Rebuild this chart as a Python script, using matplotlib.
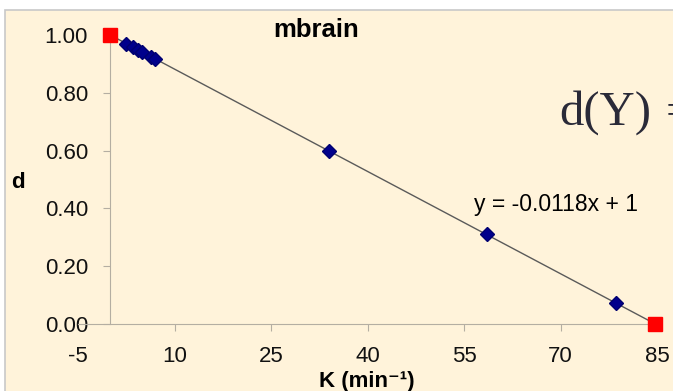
import matplotlib
matplotlib.use("Agg")
import matplotlib.pyplot as plt
from matplotlib.patches import Rectangle

# values
k_points = [2.5, 3.6, 4.4, 5.0, 6.4, 7.0, 34.0, 58.6, 78.6]
d_points = [0.970, 0.958, 0.948, 0.941, 0.924, 0.917, 0.600, 0.310, 0.073]
k_ends = [0.0, 84.75]
d_ends = [1.0, 0.0]
slope, intercept = -0.0118, 1
x_ticks = [-5, 10, 25, 40, 55, 70, 85]
y_ticks = [0.0, 0.2, 0.4, 0.6, 0.8, 1.0]

W, H = 673, 391
cream = "#FFF3DA"
axis_grey = "#B4AEA2"

plt.rcParams["font.family"] = ["Liberation Sans", "DejaVu Sans"]
plt.rcParams["axes.unicode_minus"] = False

fig = plt.figure(figsize=(W / 100, H / 100), dpi=100, facecolor="white")


def px(x, y):
    # pixel position -> figure fraction
    return x / W, 1 - y / H


# cream chart area with thin grey border, kept behind the axes
x0, y0 = px(5, 10)
fig.patches.append(Rectangle((x0, -0.01), 1 - x0 + 0.01, y0 + 0.01, transform=fig.transFigure,
                             facecolor=cream, edgecolor="#C8C8C8", linewidth=1.2,
                             zorder=-10))

ax = fig.add_axes([78 / W, (H - 324) / H, 579 / W, 289 / H])
ax.set_facecolor("none")
ax.set_zorder(5)
ax.set_xlim(-5, 85)
ax.set_ylim(0, 1)

for side in ["top", "right"]:
    ax.spines[side].set_visible(False)
ax.spines["left"].set_position(("data", 0))
ax.spines["left"].set_color(axis_grey)
ax.spines["bottom"].set_color(axis_grey)

ax.set_xticks(x_ticks)
ax.set_yticks(y_ticks)
ax.set_yticklabels([f"{v:.2f}" for v in y_ticks])
ax.tick_params(axis="both", colors=axis_grey, labelcolor="#111111", labelsize=16,
               length=5, direction="out")
ax.tick_params(axis="y", pad=11)
ax.tick_params(axis="x", pad=11)
ax.xaxis.get_major_ticks()[0].tick1line.set_visible(False)

# trend line over the fitted range
tx = [k_ends[0], k_ends[1]]
ty = [slope * v + intercept for v in tx]
ax.plot(tx, ty, color="#5a5a5a", linewidth=1.0, zorder=2)

ax.plot(k_points, d_points, linestyle="none", marker="D", markersize=7.2,
        color="#00008C", markeredgecolor="#000070", zorder=3, clip_on=False)
ax.plot(k_ends, d_ends, linestyle="none", marker="s", markersize=9.5,
        color="#FF0000", markeredgecolor="#FF0000", zorder=4, clip_on=False)

fig.text(*px(316, 37), "mbrain", fontsize=18.5, fontweight="bold",
         ha="center", va="baseline")
fig.text(*px(556, 211), f"y = {slope}x + {intercept}", fontsize=16.5,
         ha="center", va="baseline")
fig.text(*px(367, 381), "K (min⁻¹)", fontsize=16, fontweight="bold",
         ha="center", va="center")
fig.text(*px(18, 182), "d", fontsize=16, fontweight="bold",
         ha="center", va="center")

# pasted formula fragment at the right edge, cut off by the frame
serif = ["Liberation Serif", "DejaVu Serif"]
fig.text(*px(559, 125), "d(Y)", fontsize=35, family=serif,
         color="#2a2a38", ha="left", va="baseline")
fig.text(*px(666, 125), "=", fontsize=35, family=serif,
         color="#2a2a38", ha="left", va="baseline")

fig.savefig("out.png", dpi=100, facecolor="white")
